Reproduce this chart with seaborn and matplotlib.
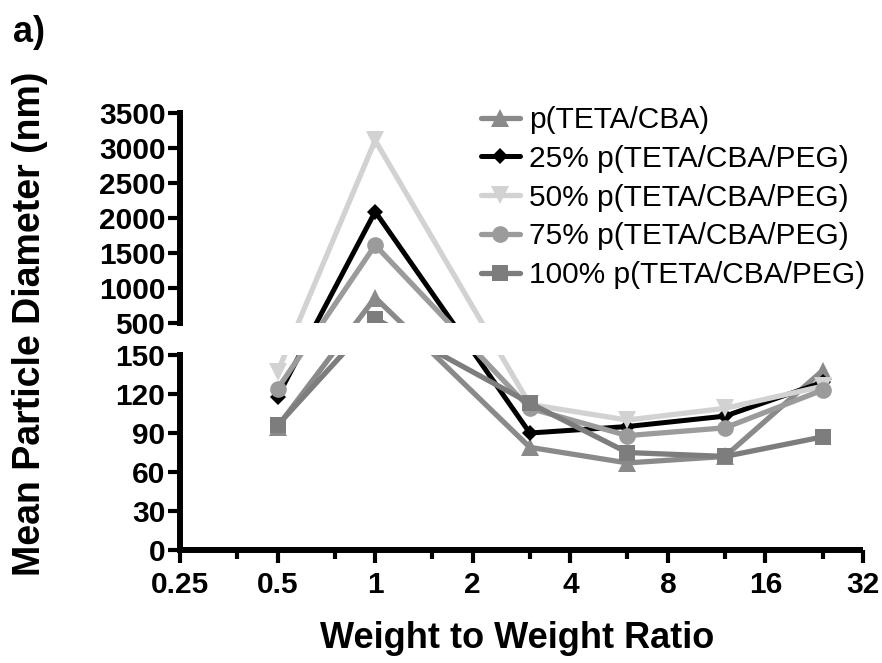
import numpy as np
import pandas as pd
import matplotlib
matplotlib.use("Agg")
import matplotlib.pyplot as plt
import seaborn as sns
from matplotlib.ticker import FixedLocator, NullFormatter

# ---- data -------------------------------------------------------------
ratios = [0.5, 1, 3, 6, 12, 24]
teta_cba = [95, 860, 79, 67, 72, 138]
peg25 = [118, 2090, 90, 95, 103, 129]
peg50 = [137, 3110, 112, 100, 109, 126]
peg75 = [124, 1610, 109, 88, 94, 123]
peg100 = [96, 560, 113, 75, 72, 87]

series_names = ["p(TETA/CBA)", "25% p(TETA/CBA/PEG)", "50% p(TETA/CBA/PEG)",
                "75% p(TETA/CBA/PEG)", "100% p(TETA/CBA/PEG)"]
x_ticks = [0.25, 0.5, 1, 2, 4, 8, 16, 32]
x_tick_labels = ["0.25", "0.5", "1", "2", "4", "8", "16", "32"]
x_minor_ticks = [0.375, 0.75, 1.5, 3, 6, 12, 24]
y_ticks = [0, 30, 60, 90, 120, 150, 500, 1000, 1500, 2000, 2500, 3000, 3500]

# broken y axis: data break points and their relative display extents
brk_data = [0, 150, 500, 3500]
brk_disp = [0, 195, 227.3, 437]
gap = (150, 500)

# ---- style ------------------------------------------------------------
sns.set_style("ticks")
plt.rcParams["font.family"] = ["Liberation Sans", "DejaVu Sans"]
plt.rcParams["font.weight"] = "bold"
for k in ["text.color", "axes.labelcolor", "xtick.color", "ytick.color",
          "axes.edgecolor"]:
    plt.rcParams[k] = "black"


def fwd(y):
    y = np.asarray(y, dtype=float)
    return np.interp(y, brk_data, brk_disp)


def inv(d):
    d = np.asarray(d, dtype=float)
    return np.interp(d, brk_disp, brk_data)


fig = plt.figure(figsize=(8.82, 6.63), dpi=100)
ax = fig.add_axes([0.2041, 0.1704, 0.7744, 0.6591])

ax.set_xscale("log", base=2)
ax.set_yscale("function", functions=(fwd, inv))

styles = [
    (teta_cba, "#8a8a8a", "^", 13, 3.8),
    (peg25, "#000000", "D", 8, 3.6),
    (peg50, "#d2d2d2", "v", 13, 3.8),
    (peg75, "#9b9b9b", "o", 12, 3.8),
    (peg100, "#7d7d7d", "s", 11, 3.8),
]
for name, (vals, col, mk, ms, lw) in zip(series_names, styles):
    sns.lineplot(x=ratios, y=vals, ax=ax, color=col, marker=mk, markersize=ms,
                 linewidth=lw, markeredgewidth=0, markeredgecolor=col,
                 label=name, solid_joinstyle="miter")

# gap of the broken axis
ax.axhspan(gap[0], gap[1], color="white", zorder=4, lw=0)

ax.set_xlim(x_ticks[0], x_ticks[-1])
ax.set_ylim(brk_data[0], brk_data[-1])
ax.set_xticks(x_ticks, x_tick_labels)
ax.xaxis.set_minor_locator(FixedLocator(x_minor_ticks))
ax.xaxis.set_minor_formatter(NullFormatter())
ax.set_yticks(y_ticks, [str(v) for v in y_ticks])
ax.yaxis.set_minor_locator(FixedLocator([]))

ax.tick_params(axis="both", which="major", length=9, width=3, color="black",
               labelcolor="black", labelsize=21.5, direction="out")
ax.tick_params(axis="y", which="major", pad=1.5)
ax.tick_params(axis="x", which="major", pad=6)
ax.tick_params(axis="x", which="minor", length=6.5, width=3, color="black")
for lab in ax.get_xticklabels() + ax.get_yticklabels():
    lab.set_fontweight("bold")

sns.despine(ax=ax)
ax.spines["bottom"].set_linewidth(4.3)
ax.spines["bottom"].set_color("black")
ax.spines["bottom"].set_capstyle("butt")
ax.spines["left"].set_visible(False)
ytr = ax.get_yaxis_transform()
for lo, hi in [(brk_data[0], gap[0]), (gap[1], brk_data[-1])]:
    ax.plot([0, 0], [lo, hi], transform=ytr, color="black", lw=4.3,
            clip_on=False, solid_capstyle="projecting", zorder=6)

ax.set_xlabel("Weight to Weight Ratio", fontsize=26, fontweight="bold",
              color="black")
ax.xaxis.set_label_coords(0.4934, -0.2014)
ax.xaxis.label.set_va("center")
ax.set_ylabel("Mean Particle Diameter (nm)", fontsize=27, fontweight="bold",
              color="black")
ax.yaxis.label.set_va("center")
ax.yaxis.set_label_coords(-0.2196, 0.518)

handles, labels = ax.get_legend_handles_labels()
leg = ax.legend(handles, labels, loc="upper left",
                bbox_to_anchor=(481 / 882, 1 - 106 / 663),
                bbox_transform=fig.transFigure, frameon=False,
                prop={"family": "Liberation Sans", "weight": "normal", "size": 21.5},
                handlelength=1.3, handletextpad=0.3, labelspacing=0.36,
                borderpad=0, borderaxespad=0, labelcolor="black")
leg.set_zorder(7)

fig.text(13 / 882, 1 - 42 / 663, "a)", fontsize=26, fontweight="bold",
         ha="left", va="baseline", color="black")

fig.savefig("out.png", dpi=100)
